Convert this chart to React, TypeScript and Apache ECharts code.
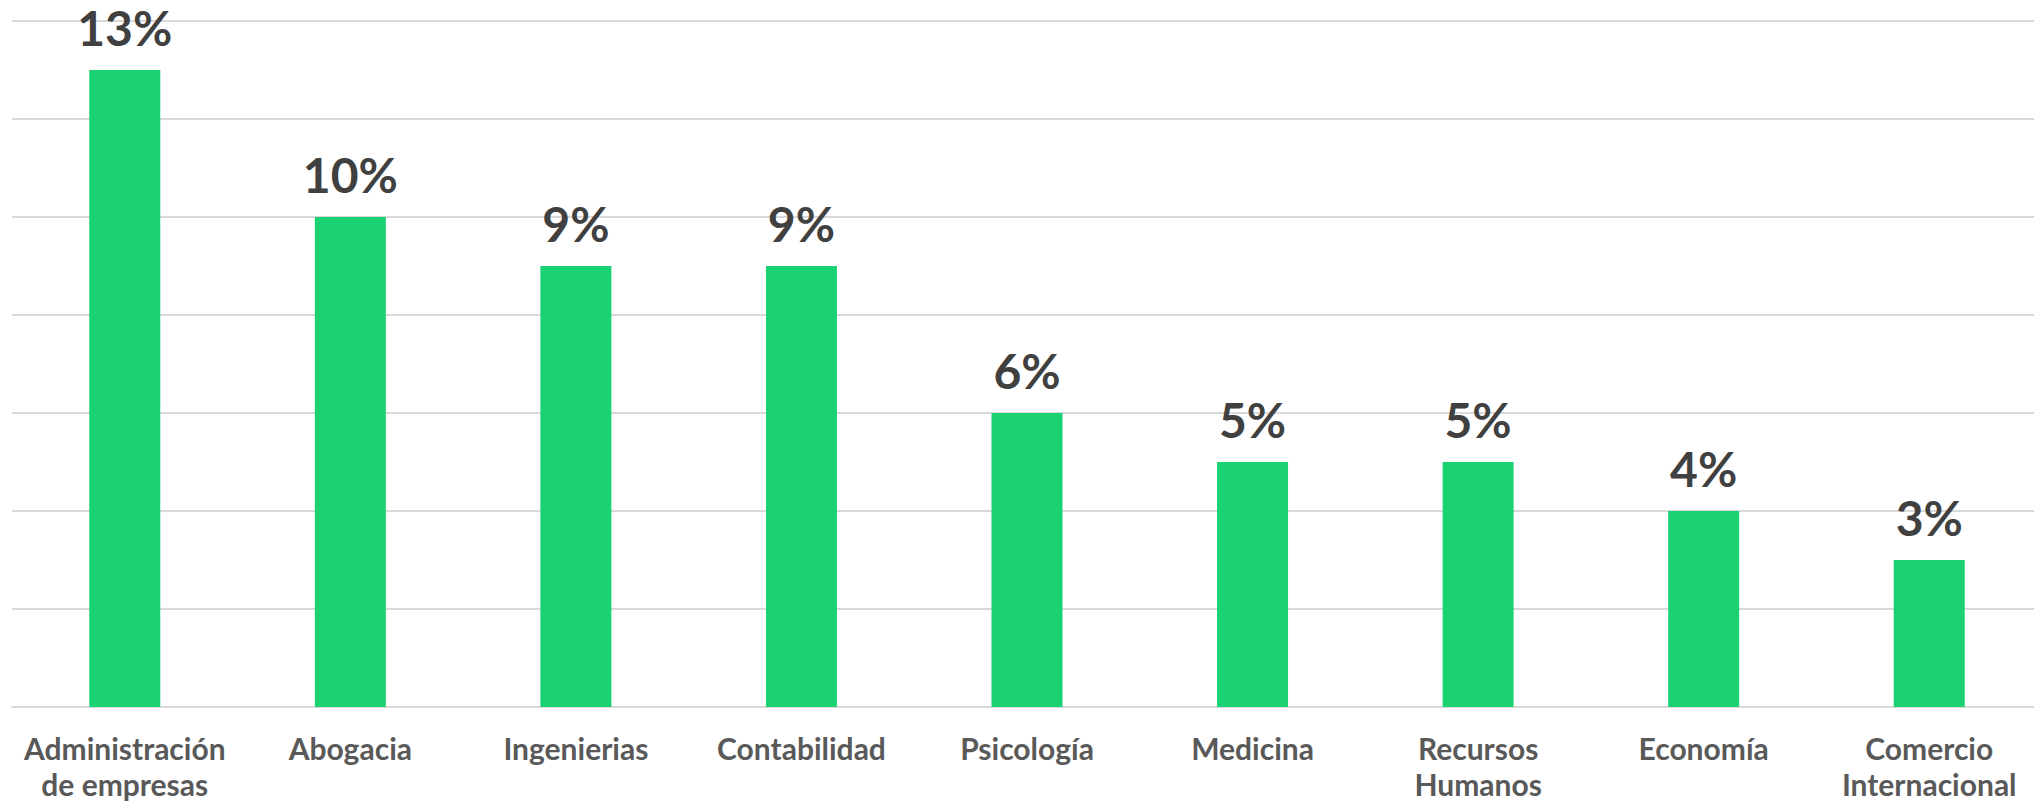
import React, { useEffect, useRef } from "react";
import * as echarts from "echarts";

const categories = [
  "Administración\nde empresas",
  "Abogacia",
  "Ingenierias",
  "Contabilidad",
  "Psicología",
  "Medicina",
  "Recursos\nHumanos",
  "Economía",
  "Comercio\nInternacional",
];
const values = [13, 10, 9, 9, 6, 5, 5, 4, 3];

export default function App() {
  const ref = useRef<HTMLDivElement>(null);
  useEffect(() => {
    if (!ref.current) return;
    const chart = echarts.init(ref.current, null, { renderer: "svg" });
    chart.setOption({
      animation: false,
      backgroundColor: "#ffffff",
      grid: {
        left: 12,
        width: 2030,
        top: 21,
        height: 686,
        containLabel: false,
        outerBoundsMode: "none",
      },
      xAxis: {
        type: "category",
        data: categories,
        axisLine: { show: true, lineStyle: { color: "#D9D9D9", width: 2 } },
        axisTick: { show: false },
        axisLabel: {
          interval: 0,
          color: "#595959",
          fontFamily: "Lato",
          fontWeight: "bold",
          fontSize: 30,
          lineHeight: 36,
          margin: 23,
        },
      },
      yAxis: {
        type: "value",
        min: 0,
        max: 14,
        interval: 2,
        axisLabel: { show: false },
        axisLine: { show: false },
        axisTick: { show: false },
        splitLine: { lineStyle: { color: "#D9D9D9", width: 2 } },
      },
      series: [
        {
          type: "bar",
          data: values,
          barWidth: 71,
          itemStyle: { color: "#1AD272" },
          label: {
            show: true,
            position: "top",
            distance: 19,
            formatter: "{c}%",
            color: "#404040",
            fontFamily: "Lato",
            fontWeight: "bold",
            fontSize: 48,
          },
        },
      ],
    });
    return () => chart.dispose();
  }, []);
  return (
    <div
      ref={ref}
      style={{ position: "fixed", left: 0, top: 0, width: 2034, height: 802 }}
    />
  );
}
